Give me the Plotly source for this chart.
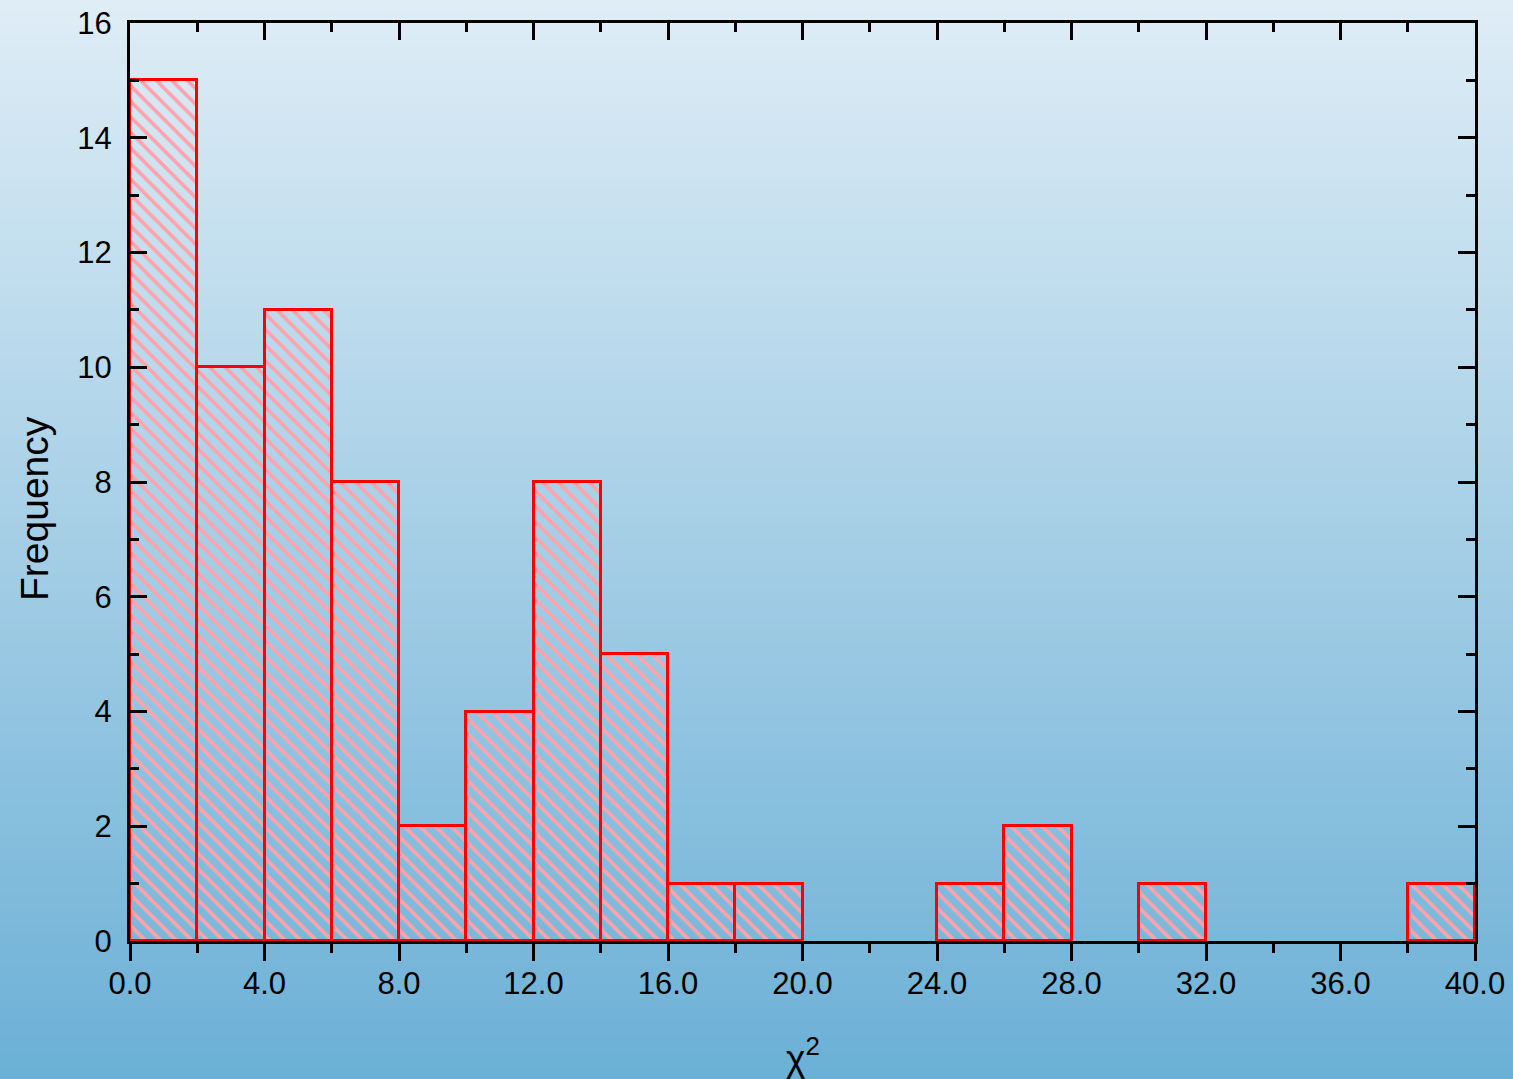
import plotly.graph_objects as go

# Histogram of chi-square values, 2.0-wide bins from 0 to 40
bin_left = [0, 2, 4, 6, 8, 10, 12, 14, 16, 18, 20, 22, 24, 26, 28, 30, 32, 34, 36, 38]
frequency = [15, 10, 11, 8, 2, 4, 8, 5, 1, 1, 0, 0, 1, 2, 0, 1, 0, 0, 0, 1]
bin_width = 2.0

x_tick_values = [0, 4, 8, 12, 16, 20, 24, 28, 32, 36, 40]
y_tick_values = [0, 2, 4, 6, 8, 10, 12, 14, 16]

# keep only non-empty bins so empty ones leave no red outline on the baseline
xs = [b + bin_width / 2 for b, f in zip(bin_left, frequency) if f > 0]
ys = [f for f in frequency if f > 0]

FONT = "Liberation Sans, Arial, sans-serif"

fig = go.Figure()
fig.add_trace(go.Bar(
    x=xs, y=ys, width=bin_width,
    marker=dict(
        color="rgba(0,0,0,0)",
        line=dict(color="#ff0000", width=3),
        pattern=dict(shape="\\", fgcolor="#ffa2ac", bgcolor="rgba(0,0,0,0)",
                     size=11, solidity=0.33, fillmode="replace"),
    ),
    showlegend=False, hoverinfo="x+y",
))
# invisible trace carrying the top axis
fig.add_trace(go.Scatter(x=[0, 40], y=[0, 0], xaxis="x2", mode="markers",
                         marker=dict(opacity=0), showlegend=False, hoverinfo="skip"))

# vertical gradient backdrop over the whole page
W, H = 1513, 1079
ml, mr, mt, mb = 130, 38, 23, 138
pw, ph = W - ml - mr, H - mt - mb
top_rgb = (223, 237, 246)
bot_rgb = (107, 176, 214)
n_strips = 216
shapes = []
for i in range(n_strips):
    py0 = i * H / n_strips - (2 if i == 0 else 0)
    py1 = (i + 1) * H / n_strips + (1.5 if i < n_strips - 1 else 4)
    t = (i + 0.5) / n_strips
    c = tuple(round(a + (b - a) * t) for a, b in zip(top_rgb, bot_rgb))
    shapes.append(dict(
        type="rect", xref="paper", yref="paper", layer="below",
        x0=-ml / pw - 0.01, x1=1 + mr / pw + 0.01,
        y0=1 + mt / ph - py1 / ph, y1=1 + mt / ph - py0 / ph,
        line=dict(width=0), fillcolor="rgb(%d,%d,%d)" % c,
    ))

axis_common = dict(showline=True, linecolor="black", linewidth=3, showgrid=False,
                   zeroline=False, tickcolor="black", tickwidth=2.5, automargin=False)

# axis titles placed as annotations (page pixel offsets converted to paper units)
annotations = [
    dict(text="Frequency", textangle=-90, showarrow=False,
         xref="paper", yref="paper", x=(34 - ml) / pw, y=(H - mb - 509) / ph,
         xanchor="center", yanchor="middle", font=dict(size=39, family=FONT)),
    dict(text="χ<sup>2</sup>", showarrow=False,
         xref="paper", yref="paper", x=(803 - ml) / pw, y=(H - mb - 1055) / ph,
         xanchor="center", yanchor="middle", font=dict(size=37, family=FONT)),
]

fig.update_layout(
    width=W, height=H,
    margin=dict(l=ml, r=mr, t=mt, b=mb),
    paper_bgcolor="rgba(0,0,0,0)", plot_bgcolor="rgba(0,0,0,0)",
    shapes=shapes, annotations=annotations,
    font=dict(family=FONT, color="black", size=30),
    bargap=0,
    xaxis=dict(
        range=[0, 40], tickvals=x_tick_values, tickformat=".1f",
        ticks="outside", ticklen=17, ticklabelstandoff=-4,
        minor=dict(dtick=2, tick0=0, ticks="outside", ticklen=9, tickwidth=2.5, tickcolor="black"),
        tickfont=dict(size=31, family=FONT),
        **axis_common,
    ),
    xaxis2=dict(
        range=[0, 40], overlaying="x", side="top", tickvals=x_tick_values,
        showticklabels=False, ticks="inside", ticklen=17,
        minor=dict(dtick=2, tick0=0, ticks="inside", ticklen=9, tickwidth=2.5, tickcolor="black"),
        **axis_common,
    ),
    yaxis=dict(
        range=[0, 16], tickvals=y_tick_values,
        ticks="inside", ticklen=17, mirror="ticks", ticklabelstandoff=9,
        minor=dict(dtick=1, tick0=0, ticks="inside", ticklen=9, tickwidth=2.5, tickcolor="black"),
        tickfont=dict(size=31, family=FONT),
        **axis_common,
    ),
)

fig.write_html("out.html")
